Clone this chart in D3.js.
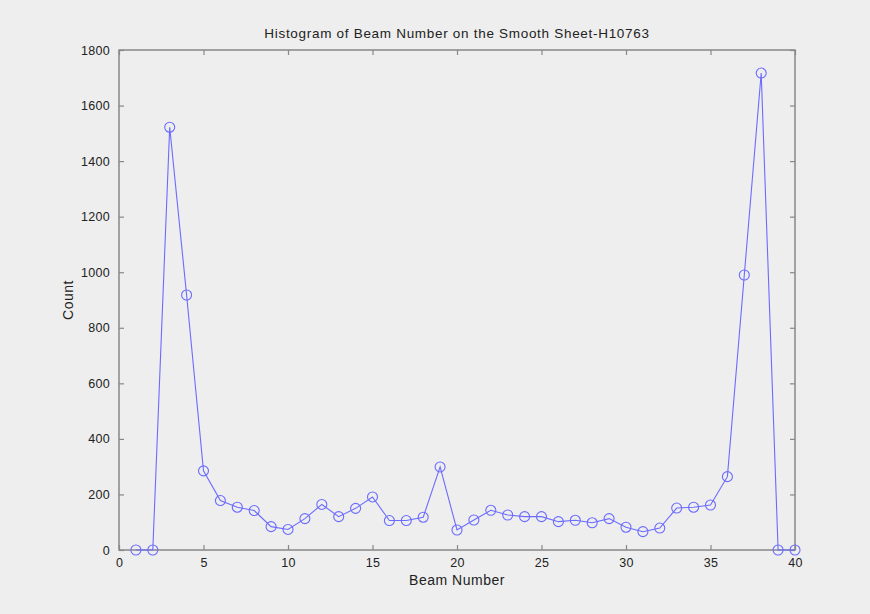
<!DOCTYPE html>
<html lang="en">
<head>
    <meta charset="UTF-8">
    <title>Histogram of Beam Number</title>
    <script src="https://d3js.org/d3.v7.min.js"></script>
    <style>
        * { margin: 0; padding: 0; }
        body { background: #eeeeee; }
        svg { display: block; }
        text { font-family: "Liberation Sans", Arial, sans-serif; fill: #222; }
    </style>
</head>
<body>
    <svg width="870" height="614"></svg>
    <script>
        // beam numbers 1..40 and the count for each
        var beams = d3.range(1, 41);
        var counts = [
            0, 0, 1522, 918, 285, 178, 154, 142, 84, 74,
            113, 164, 120, 150, 191, 106, 106, 118, 299, 72,
            108, 143, 126, 120, 120, 102, 107, 98, 113, 82,
            66, 79, 151, 154, 162, 264, 990, 1717, 0, 0
        ];
        var xTicks = [0, 5, 10, 15, 20, 25, 30, 35, 40];
        var yTicks = [0, 200, 400, 600, 800, 1000, 1200, 1400, 1600, 1800];

        // plot box (note: "top" is reserved on window, so use pTop etc)
        var pLeft = 119, pRight = 795, pTop = 50, pBottom = 550;
        var svg = d3.select('svg');

        var x = d3.scaleLinear().domain([0, 40]).range([pLeft, pRight]);
        var y = d3.scaleLinear().domain([0, 1800]).range([pBottom, pTop]);

        // axes - matlab style, ticks pointing inwards on all four sides
        function styleAxis(g) {
            g.select('.domain').remove();
            g.selectAll('.tick line').attr('stroke', '#888').attr('stroke-width', 1.2);
            g.selectAll('.tick text').style('font-size', '12.5px').style('letter-spacing', '0.3px').attr('fill', '#222');
        }
        svg.append('g').attr('transform', 'translate(0,' + pBottom + ')')
            .call(d3.axisBottom(x).tickValues(xTicks).tickFormat(d3.format('d')).tickSizeInner(-5).tickPadding(8))
            .call(styleAxis);
        svg.append('g').attr('transform', 'translate(0,' + pTop + ')')
            .call(d3.axisTop(x).tickValues(xTicks).tickSizeInner(-5).tickFormat(''))
            .call(styleAxis);
        svg.append('g').attr('transform', 'translate(' + pLeft + ',0)')
            .call(d3.axisLeft(y).tickValues(yTicks).tickFormat(d3.format('d')).tickSizeInner(-5).tickPadding(9))
            .call(styleAxis);
        svg.append('g').attr('transform', 'translate(' + pRight + ',0)')
            .call(d3.axisRight(y).tickValues(yTicks).tickSizeInner(-5).tickFormat(''))
            .call(styleAxis);

        svg.append('rect')
            .attr('x', pLeft).attr('y', pTop)
            .attr('width', pRight - pLeft).attr('height', pBottom - pTop)
            .attr('fill', 'none').attr('stroke', '#888').attr('stroke-width', 1.5);

        var line = d3.line()
            .x(function (d, i) { return x(beams[i]); })
            .y(function (d) { return y(d); });

        svg.append('path')
            .datum(counts)
            .attr('d', line)
            .attr('fill', 'none')
            .attr('stroke', '#6b6bff')
            .attr('stroke-width', 1.1);

        svg.append('g').selectAll('circle')
            .data(counts)
            .enter()
            .append('circle')
            .attr('cx', function (d, i) { return x(beams[i]); })
            .attr('cy', function (d) { return y(d); })
            .attr('r', 5)
            .attr('fill', 'none')
            .attr('stroke', '#6b6bff')
            .attr('stroke-width', 1.1);

        // labels
        svg.append('text')
            .attr('x', (pLeft + pRight) / 2).attr('y', 38)
            .attr('text-anchor', 'middle')
            .style('font-size', '13.5px')
            .style('letter-spacing', '0.7px')
            .text('Histogram of Beam Number on the Smooth Sheet-H10763');
        svg.append('text')
            .attr('x', (pLeft + pRight) / 2).attr('y', 585)
            .attr('text-anchor', 'middle')
            .style('font-size', '14px')
            .style('letter-spacing', '0.5px')
            .text('Beam Number');
        svg.append('text')
            .attr('transform', 'translate(73,' + (pTop + pBottom) / 2 + ') rotate(-90)')
            .attr('text-anchor', 'middle')
            .style('font-size', '14px')
            .style('letter-spacing', '0.5px')
            .text('Count');
    </script>
</body>
</html>
